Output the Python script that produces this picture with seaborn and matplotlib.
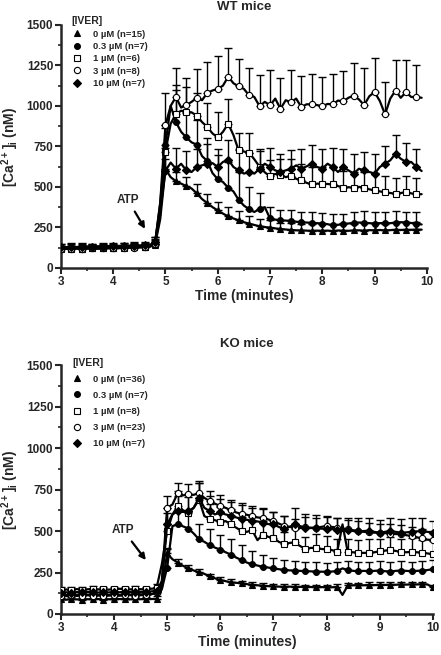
import numpy as np
import pandas as pd
import matplotlib
matplotlib.use('Agg')
import matplotlib.pyplot as plt
from matplotlib.lines import Line2D
from matplotlib.ticker import MultipleLocator
import seaborn as sns

# Time axis (minutes), sampled every 0.1 min
time_wt = np.round(np.arange(3.0, 9.95, 0.1), 1)
time_ko = np.round(np.arange(3.0, 10.05, 0.1), 1)

# WT mice, mean [Ca2+]i (nM)
wt_0 = [120, 118, 122, 120, 119, 121, 123, 120, 122, 125, 124, 123, 126, 125, 128, 127, 130, 132,
        140, 300, 610, 560, 535, 520, 505, 490, 460, 425, 400, 375,
        355, 335, 318, 305, 294, 282, 273, 265, 257, 252,
        249, 244, 240, 237, 234, 232, 231, 230, 229, 230,
        229, 230, 228, 231, 230, 229, 231, 232, 230, 233,
        232, 234, 231, 233, 236, 234, 236, 235, 237, 236]
wt_03 = [125, 122, 128, 124, 126, 123, 127, 125, 129, 126, 130, 128, 131, 133, 132, 135, 136, 138,
         150, 400, 760, 1000, 900, 840, 805, 775, 760, 690, 660, 585,
         548, 530, 495, 472, 420, 385, 362, 345, 365, 375,
         305, 298, 294, 292, 290, 285, 282, 280, 278, 276,
         274, 270, 262, 266, 270, 274, 278, 280, 279, 276,
         274, 276, 278, 276, 279, 282, 280, 277, 274, 268]
wt_1 = [118, 120, 117, 121, 119, 122, 120, 123, 121, 124, 122, 125, 124, 127, 126, 128, 130, 133,
        145, 330, 715, 890, 950, 970, 965, 960, 940, 900, 870, 830,
        805, 840, 890, 820, 725, 718, 712, 670, 625, 590,
        565, 580, 575, 560, 570, 550, 540, 525, 515, 520,
        520, 518, 515, 505, 495, 498, 495, 500, 495, 485,
        478, 472, 468, 462, 458, 462, 468, 460, 455, 455]
wt_3 = [115, 118, 116, 120, 117, 119, 121, 118, 122, 120, 123, 121, 124, 126, 125, 127, 129, 131,
        150, 400, 880, 1000, 1055, 990, 1005, 1025, 1050, 1035, 1080, 1095,
        1105, 1125, 1180, 1140, 1120, 1105, 1065, 1055, 998, 1025,
        1003, 1045, 982, 1035, 1023, 1045, 992, 1010, 1009, 1005,
        997, 1012, 1009, 1033, 1028, 1050, 1064, 1040, 1005, 1060,
        1085, 1030, 948, 1045, 1095, 1050, 1085, 1055, 1055, 1050]
wt_10 = [130, 128, 132, 129, 131, 133, 130, 134, 132, 135, 133, 136, 135, 138, 137, 139, 140, 142,
         160, 350, 600, 650, 612, 643, 602, 592, 623, 633, 643, 647,
         623, 654, 668, 623, 602, 582, 592, 582, 612, 643,
         623, 602, 592, 602, 612, 633, 612, 627, 643, 623,
         612, 643, 623, 592, 623, 602, 582, 612, 602, 592,
         582, 623, 643, 664, 705, 674, 654, 654, 623, 598]

# WT SEM (upper bars only), every 0.2 min from 3.0 to 9.8
wt_0_err = [15, 15, 15, 15, 15, 15, 15, 15, 15,
            20, 60, 60, 55, 55, 55, 50, 55, 55, 50, 45, 45, 40, 45, 40, 45,
            45, 40, 45, 40, 45, 45, 40, 45, 45, 45]
wt_03_err = [20, 20, 20, 20, 20, 20, 20, 20, 20,
             30, 120, 200, 150, 150, 140, 150, 160, 170, 140, 100, 70, 65, 70, 65, 65,
             65, 70, 65, 70, 70, 70, 65, 70, 65, 70]
wt_1_err = [20, 20, 20, 20, 20, 20, 20, 20, 20,
            30, 150, 180, 150, 140, 150, 160, 150, 110, 120, 110, 100, 100, 105, 100, 105,
            100, 110, 105, 100, 100, 105, 100, 95, 100, 100]
wt_3_err = [20, 20, 20, 20, 20, 20, 20, 20, 20,
            40, 200, 180, 170, 180, 190, 200, 180, 170, 170, 190, 220, 190, 200, 190, 190,
            180, 185, 190, 200, 230, 210, 200, 190, 200, 195]
wt_10_err = [20, 20, 20, 20, 20, 20, 20, 20, 20,
             30, 140, 130, 120, 110, 120, 110, 120, 130, 120, 110, 120, 110, 115, 120, 115,
             120, 115, 110, 120, 115, 120, 110, 115, 115, 110]

# KO mice, mean [Ca2+]i (nM)
ko_0 = [88, 86, 90, 88, 87, 89, 88, 90, 87, 89, 88, 90, 89, 88, 90, 89, 91, 90,
        92, 150, 365, 330, 310, 290, 275, 262, 252, 242, 226, 215,
        205, 198, 191, 188, 185, 180, 176, 173, 171, 168,
        166, 165, 164, 165, 163, 164, 162, 163, 161, 162,
        162, 161, 163, 115, 172, 173, 174, 173, 175, 174,
        176, 175, 177, 176, 178, 177, 179, 178, 180, 178, 160]
ko_03 = [112, 115, 113, 116, 114, 117, 115, 113, 116, 114, 117, 115, 118, 116, 117, 119, 118, 120,
         125, 150, 280, 530, 540, 528, 515, 485, 450, 435, 415, 400,
         388, 372, 358, 340, 325, 310, 300, 292, 285, 280,
         275, 270, 266, 263, 262, 260, 258, 257, 256, 255,
         255, 256, 258, 275, 265, 260, 258, 260, 258, 260,
         262, 258, 256, 260, 262, 260, 258, 260, 262, 265, 270]
ko_1 = [145, 148, 146, 150, 147, 149, 151, 148, 150, 147, 149, 152, 150, 148, 151, 149, 150, 152,
        155, 300, 500, 600, 650, 625, 610, 640, 690, 590, 575, 565,
        555, 560, 540, 520, 500, 495, 505, 445, 478, 465,
        460, 435, 422, 428, 432, 410, 392, 398, 400, 392,
        390, 385, 375, 540, 372, 372, 370, 368, 370, 372,
        378, 382, 386, 380, 375, 372, 375, 372, 370, 365, 360]
ko_3 = [110, 108, 112, 109, 111, 113, 110, 112, 109, 111, 113, 110, 112, 114, 111, 113, 115, 118,
        130, 200, 640, 660, 730, 715, 722, 718, 730, 700, 680, 665,
        650, 640, 625, 612, 603, 598, 590, 582, 580, 570,
        560, 545, 532, 525, 520, 518, 522, 520, 518, 525,
        530, 525, 520, 515, 510, 505, 500, 495, 492, 490,
        490, 488, 484, 482, 480, 475, 470, 462, 455, 448, 445]
ko_10 = [128, 131, 129, 132, 130, 133, 131, 129, 132, 130, 133, 131, 134, 132, 130, 133, 135, 136,
         140, 180, 540, 600, 620, 615, 620, 640, 700, 640, 620, 600,
         612, 600, 592, 582, 572, 568, 560, 558, 550, 542,
         540, 525, 510, 525, 540, 530, 520, 518, 520, 515,
         510, 512, 508, 500, 505, 500, 498, 500, 502, 495,
         490, 495, 500, 495, 490, 492, 495, 498, 500, 495, 490]

# KO SEM (upper bars only), every 0.2 min from 3.0 to 10.0
ko_0_err = [10, 10, 10, 10, 10, 10, 10, 10, 10,
            15, 25, 22, 20, 20, 18, 18, 18, 16, 16, 15, 15, 15, 15, 15, 15,
            15, 15, 15, 15, 15, 15, 15, 15, 15, 15, 15]
ko_03_err = [15, 15, 15, 15, 15, 15, 15, 15, 15,
             20, 120, 100, 100, 90, 95, 90, 95, 90, 80, 70, 65, 60, 60, 55, 55,
             55, 55, 55, 55, 55, 55, 55, 55, 55, 55, 55]
ko_1_err = [15, 15, 15, 15, 15, 15, 15, 15, 15,
            25, 110, 90, 95, 100, 90, 90, 95, 85, 80, 80, 80, 75, 80, 75, 80,
            80, 75, 80, 75, 80, 75, 80, 75, 80, 75, 80]
ko_3_err = [15, 15, 15, 15, 15, 15, 15, 15, 15,
            30, 70, 60, 60, 70, 60, 70, 60, 65, 60, 60, 55, 60, 55, 60, 60,
            55, 60, 55, 60, 55, 55, 60, 55, 55, 60, 55]
ko_10_err = [15, 15, 15, 15, 15, 15, 15, 15, 15,
             25, 100, 90, 100, 90, 90, 80, 80, 85, 80, 80, 75, 80, 100, 80, 75,
             80, 70, 75, 80, 75, 75, 80, 80, 85, 80, 70]

wt_labels = ['0 µM (n=15)', '0.3 µM (n=7)', '1 µM (n=6)', '3 µM (n=8)', '10 µM (n=7)']
ko_labels = ['0 µM (n=36)', '0.3 µM (n=7)', '1 µM (n=8)', '3 µM (n=23)', '10 µM (n=7)']

markers = ['^', 'o', 's', 'o', 'D']
faces = ['k', 'k', 'w', 'w', 'k']
msizes = [4.2, 4.2, 4.5, 4.5, 3.6]

sns.set_style('ticks')
plt.rcParams['font.family'] = ['Liberation Sans', 'DejaVu Sans']
plt.rcParams['font.weight'] = 'bold'
plt.rcParams['axes.labelweight'] = 'bold'
plt.rcParams['axes.titleweight'] = 'bold'
plt.rcParams['mathtext.fontset'] = 'custom'
plt.rcParams['mathtext.rm'] = 'Liberation Sans:bold'
plt.rcParams['mathtext.bf'] = 'Liberation Sans:bold'
plt.rcParams['mathtext.default'] = 'rm'

fig = plt.figure(figsize=(4.41, 6.55), dpi=100)
ax_wt = fig.add_axes([0.138, 0.591, 0.830, 0.371])
ax_ko = fig.add_axes([0.138, 0.0626, 0.8435, 0.380])


def draw_panel(ax, t, series, errs, labels, title, atp_text, atp_tip, leg_y, leg_space, title_pad):
    for y, e, m, fc, ms in zip(series, errs, markers, faces, msizes):
        df = pd.DataFrame({'time': t, 'ca': y})
        t2 = df['time'].values[::2]
        y2 = df['ca'].values[::2]
        ax.errorbar(t2, y2, yerr=[np.zeros(len(e)), e], fmt='none', ecolor='k',
                    elinewidth=1.0, capsize=2.8, capthick=1.0, zorder=2)
        sns.lineplot(data=df, x='time', y='ca', ax=ax, color='k', linewidth=1.6,
                     marker=m, markersize=ms, markerfacecolor=fc, markeredgecolor='k',
                     markeredgewidth=0.8, markevery=2, errorbar=None, zorder=3)

    ax.set_xlim(3, 10)
    ax.set_ylim(0, 1500)
    ax.xaxis.set_major_locator(MultipleLocator(1))
    ax.xaxis.set_minor_locator(MultipleLocator(0.5))
    ax.yaxis.set_major_locator(MultipleLocator(250))
    ax.yaxis.set_minor_locator(MultipleLocator(125))
    ax.tick_params(which='major', direction='out', length=4, width=1.5, labelsize=8.5, pad=1.5)
    ax.tick_params(which='minor', direction='out', length=2.5, width=1.2)
    for lab in ax.get_xticklabels() + ax.get_yticklabels():
        lab.set_fontweight('bold')
    sns.despine(ax=ax)
    for side in ['left', 'bottom']:
        ax.spines[side].set_linewidth(1.8)
    ax.set_xlabel('Time (minutes)', fontsize=10, labelpad=1)
    ax.set_ylabel('[Ca$^{2+}$]$_{i}$ (nM)', fontsize=10, labelpad=4)
    ax.set_title(title, fontsize=9.5, pad=title_pad)

    ax.annotate('ATP', xy=atp_tip, xytext=atp_text, ha='center', va='center',
                fontsize=8.5, fontweight='bold',
                arrowprops=dict(arrowstyle='-|>', color='k', lw=1.6,
                                mutation_scale=9, shrinkA=2, shrinkB=0))

    handles = [Line2D([], [], linestyle='none', marker=m, markersize=ms,
                      markerfacecolor=fc, markeredgecolor='k', markeredgewidth=0.8)
               for m, fc, ms in zip(markers, faces, msizes)]
    leg = ax.legend(handles, labels, title='[IVER]', loc='upper left',
                    bbox_to_anchor=(0.03, leg_y), frameon=False, fontsize=6.8,
                    title_fontsize=7.5, borderpad=0, borderaxespad=0,
                    handlelength=1.0, handletextpad=1.2, labelspacing=leg_space,
                    alignment='left')
    leg.get_title().set_fontweight('bold')
    for txt in leg.get_texts():
        txt.set_fontweight('bold')


draw_panel(ax_wt, time_wt,
           [wt_0, wt_03, wt_1, wt_3, wt_10],
           [wt_0_err, wt_03_err, wt_1_err, wt_3_err, wt_10_err],
           wt_labels, 'WT mice', (4.28, 420), (4.61, 241), 1.035, 0.35, 11)
draw_panel(ax_ko, time_ko,
           [ko_0, ko_03, ko_1, ko_3, ko_10],
           [ko_0_err, ko_03_err, ko_1_err, ko_3_err, ko_10_err],
           ko_labels, 'KO mice', (4.17, 506), (4.60, 325), 1.03, 0.75, 13)

fig.savefig('out.png', dpi=100)
